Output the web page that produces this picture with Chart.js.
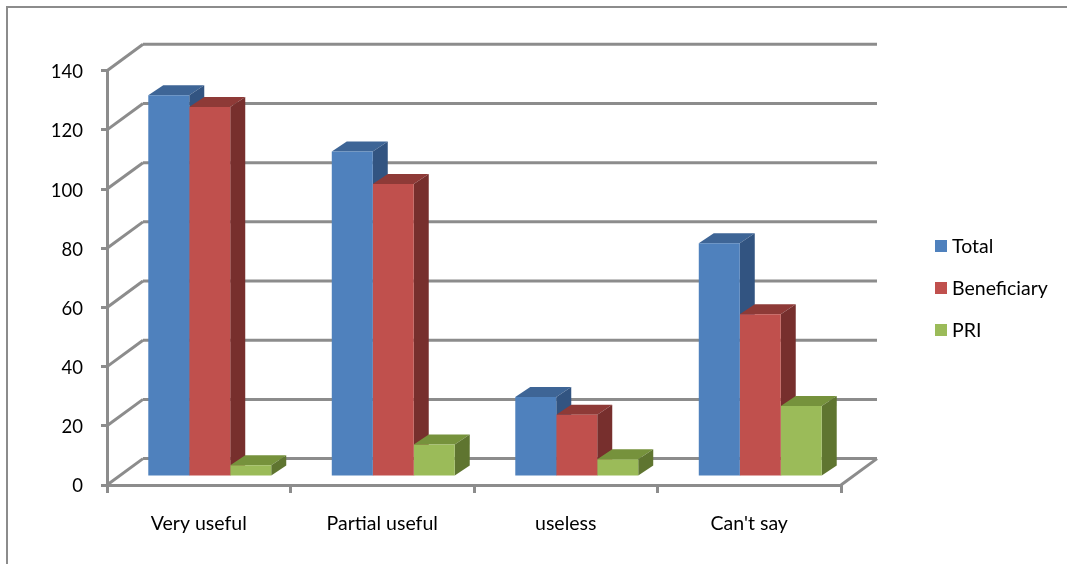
<!DOCTYPE html>
<html>
<head>
<meta charset="UTF-8">
<title>Usefulness by respondent group</title>
<script src="https://cdn.jsdelivr.net/npm/chart.js@4"></script>
<style>
    html, body { margin: 0; padding: 0; background: #fff; }
    canvas { display: block; }
</style>
</head>
<body>
<canvas id="usefulChart" width="1067" height="564"></canvas>
<script>
var categories = ["Very useful", "Partial useful", "useless", "Can't say"];
var total = [129, 110, 27, 79];
var beneficiary = [125, 99, 21, 55];
var pri = [4, 11, 6, 24];

var yMax = 140;
var yStep = 20;
var fontName = "Lato";
var lineGrey = "#8c8c8c";

// oblique offsets of the fake 3d box
var wallX = 36, wallY = -26.4;     // back wall relative to the front axes
var plotX = 11, plotY = -8;        // plane of the bar fronts
var depthX = 15, depthY = -10;     // depth of one bar

function drawLine(ctx, x1, y1, x2, y2) {
    ctx.beginPath();
    ctx.moveTo(x1, y1);
    ctx.lineTo(x2, y2);
    ctx.stroke();
}

function fillQuad(ctx, color, pts) {
    ctx.fillStyle = color;
    ctx.beginPath();
    ctx.moveTo(pts[0], pts[1]);
    ctx.lineTo(pts[2], pts[3]);
    ctx.lineTo(pts[4], pts[5]);
    ctx.lineTo(pts[6], pts[7]);
    ctx.closePath();
    ctx.fill();
}

var box3d = {
    id: "box3d",
    beforeDraw: function (chart) {
        // outer frame, only the top and left edges are inside the page
        var ctx = chart.ctx;
        ctx.save();
        ctx.strokeStyle = lineGrey;
        ctx.lineWidth = 2;
        ctx.beginPath();
        ctx.moveTo(7, chart.height);
        ctx.lineTo(7, 7);
        ctx.lineTo(chart.width, 7);
        ctx.stroke();
        ctx.restore();
    },
    beforeDatasetsDraw: function (chart) {
        var ctx = chart.ctx, area = chart.chartArea, y = chart.scales.y;
        ctx.save();
        ctx.strokeStyle = lineGrey;
        ctx.lineWidth = 3;
        for (var v = 0; v <= yMax; v += yStep) {
            var py = y.getPixelForValue(v);
            drawLine(ctx, area.left, py, area.left + wallX, py + wallY);
            drawLine(ctx, area.left + wallX, py + wallY, area.right + wallX, py + wallY);
        }
        // right edge of the floor
        var py0 = y.getPixelForValue(0);
        drawLine(ctx, area.right, py0, area.right + wallX, py0 + wallY);
        ctx.restore();

        // tops and sides go first, series by series, the fronts then cover them
        ctx.save();
        ctx.translate(plotX, plotY);
        chart.data.datasets.forEach(function (ds, i) {
            chart.getDatasetMeta(i).data.forEach(function (bar) {
                var left = bar.x - bar.width / 2, right = bar.x + bar.width / 2;
                fillQuad(ctx, ds.topColor, [left, bar.y, left + depthX, bar.y + depthY,
                    right + depthX, bar.y + depthY, right, bar.y]);
                fillQuad(ctx, ds.sideColor, [right, bar.y, right + depthX, bar.y + depthY,
                    right + depthX, bar.base + depthY, right, bar.base]);
            });
        });
        ctx.restore();
    },
    beforeDatasetDraw: function (chart) {
        chart.ctx.save();
        chart.ctx.translate(plotX, plotY);
    },
    afterDatasetDraw: function (chart) {
        chart.ctx.restore();
    },
    afterDraw: function (chart) {
        // legend column right of the plot
        var ctx = chart.ctx;
        ctx.save();
        ctx.font = "19.5px " + fontName;
        ctx.textBaseline = "middle";
        chart.data.datasets.forEach(function (ds, i) {
            var rowY = 246 + i * 42;
            ctx.fillStyle = ds.backgroundColor;
            ctx.fillRect(935, rowY - 6, 12, 12);
            ctx.fillStyle = "#000";
            ctx.fillText(ds.label, 952, rowY + 1);
        });
        ctx.restore();
    }
};

new Chart(document.getElementById("usefulChart"), {
    type: "bar",
    data: {
        labels: categories,
        datasets: [
            { label: "Total", data: total, backgroundColor: "#4f81bd", topColor: "#3e6596", sideColor: "#325481" },
            { label: "Beneficiary", data: beneficiary, backgroundColor: "#c0504d", topColor: "#8e3a37", sideColor: "#772f2d" },
            { label: "PRI", data: pri, backgroundColor: "#9bbb59", topColor: "#76923c", sideColor: "#5f7530" }
        ]
    },
    options: {
        responsive: false,
        animation: false,
        layout: { padding: { top: 70.7, right: 226, left: 0, bottom: 0 } },
        datasets: { bar: { barPercentage: 1, categoryPercentage: 0.67, borderWidth: 0, clip: false } },
        plugins: {
            tooltip: { enabled: false },
            title: { display: false },
            legend: { display: false }
        },
        scales: {
            x: {
                afterFit: function (scale) { scale.height = 79; },
                border: { color: lineGrey, width: 3 },
                grid: { drawOnChartArea: false, color: lineGrey, lineWidth: 3, tickLength: 8 },
                ticks: { color: "#000", padding: 19, maxRotation: 0, font: { family: fontName, size: 19.5 } }
            },
            y: {
                min: 0,
                max: yMax,
                afterFit: function (scale) { scale.width = 107; },
                border: { color: lineGrey, width: 3 },
                grid: { drawOnChartArea: false, color: lineGrey, lineWidth: 3, tickLength: 6 },
                ticks: { stepSize: yStep, color: "#000", padding: 18, labelOffset: 1.5, font: { family: fontName, size: 18.5 } }
            }
        }
    },
    plugins: [box3d]
});
</script>
</body>
</html>
